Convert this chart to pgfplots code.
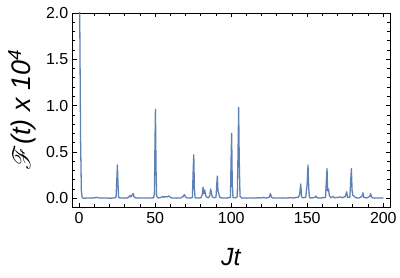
\documentclass[border=0pt]{standalone}
\usepackage{pgfplots}
\pgfplotsset{compat=1.18}
\usepackage{fontspec}
\usepackage{mathrsfs}
\setmainfont{Liberation Sans}
\definecolor{mblue}{RGB}{94,129,181}
\begin{document}
\begin{tikzpicture}
\path[use as bounding box] (-72.7bp,-71bp) rectangle (327.3bp,207bp);
\begin{axis}[
  at={(0,0)}, anchor=south west,
  scale only axis, width=317.3bp, height=194bp,
  xmin=-4.2, xmax=204.4, ymin=-0.094, ymax=2.0,
  xtick={0,50,100,150,200}, minor xtick={10,20,30,40,60,70,80,90,110,120,130,140,160,170,180,190},
  ytick={0,0.5,1,1.5,2}, minor ytick={0.1,0.2,0.3,0.4,0.6,0.7,0.8,0.9,1.1,1.2,1.3,1.4,1.6,1.7,1.8,1.9},
  yticklabel style={xshift=-1bp, /pgf/number format/.cd,fixed,fixed zerofill,precision=1},
  /pgf/number format/assume math mode=true,
  tick label style={font=\fontsize{16}{18}\selectfont, black},
  tick align=inside, major tick length=4.5bp, minor tick length=2.8bp,
  tick style={black, line width=0.8pt},
  axis line style={black, line width=0.9pt},
  xticklabel style={yshift=-2bp},
  xlabel={\textit{Jt}},
  ylabel={$\mathscr{F}$\textit{(t) x 10}\textsuperscript{\textit{4}}},
  xlabel style={at={(axis description cs:0.5,-0.26)}, anchor=center, font=\fontsize{25}{27}\selectfont},
  ylabel style={at={(axis description cs:-0.16,0.5)}, anchor=center, font=\fontsize{27}{30}\selectfont},
  clip=true,
]
\addplot[mblue, line width=1.3pt, line join=round] coordinates {
(0,3.0) (0.5,1.8) (1,0.6) (1.5,0.08) (2,0.01) (3,0.0) (5,0.003) (8,0.002) (10,0.005) (12,0.01) (13,0.004) (15,0.002) (18,0.003) (20,0.001) (23,0.003) (24.3,0.01) (24.8,0.2) (25.2,0.36) (25.6,0.15) (26,0.01) (27,0.003) (30,0.002) (32,0.005) (33,0.02) (33.5,0.03) (34,0.015) (35,0.04) (35.6,0.05) (36,0.02) (37,0.005) (40,0.002) (43,0.003) (46,0.002) (49,0.005) (49.5,0.05) (49.9,0.6) (50.2,0.96) (50.6,0.3) (51,0.02) (52,0.003) (54,0.01) (55,0.02) (56,0.01) (57,0.02) (58,0.015) (59,0.025) (60,0.01) (61,0.003) (64,0.002) (67,0.004) (68.5,0.02) (69.2,0.04) (70,0.015) (71,0.003) (73,0.002) (74.5,0.01) (75,0.3) (75.4,0.47) (75.8,0.1) (76.3,0.005) (78,0.003) (80,0.005) (81,0.04) (81.5,0.12) (82,0.05) (82.6,0.09) (83.2,0.03) (84,0.01) (85,0.005) (86,0.03) (86.5,0.1) (87,0.06) (87.5,0.02) (88.5,0.005) (90,0.01) (90.5,0.15) (90.9,0.24) (91.3,0.08) (91.8,0.05) (92.5,0.01) (94,0.003) (97,0.002) (99.5,0.01) (99.9,0.4) (100.3,0.70) (100.7,0.15) (101.2,0.005) (103,0.005) (104,0.02) (104.5,0.5) (104.9,0.98) (105.3,0.4) (105.8,0.02) (107,0.003) (110,0.002) (113,0.003) (116,0.002) (118,0.006) (119,0.003) (121,0.008) (123,0.003) (125,0.01) (125.8,0.05) (126.5,0.01) (128,0.002) (131,0.003) (134,0.002) (137,0.004) (139,0.006) (141,0.003) (143,0.01) (144,0.008) (145,0.04) (145.7,0.155) (146.3,0.02) (147,0.005) (149,0.01) (149.9,0.15) (150.5,0.36) (151,0.1) (151.5,0.005) (153,0.004) (155,0.01) (155.7,0.025) (156.5,0.005) (158,0.003) (160,0.005) (162,0.01) (162.6,0.2) (163,0.32) (163.4,0.08) (164,0.1) (164.5,0.03) (165.5,0.005) (167,0.02) (168,0.005) (170,0.01) (172,0.015) (173,0.005) (175,0.02) (175.9,0.07) (176.5,0.01) (178,0.01) (178.6,0.2) (179,0.32) (179.5,0.08) (180,0.03) (181,0.02) (182,0.005) (184,0.003) (186,0.02) (186.6,0.06) (187.2,0.01) (189,0.003) (191,0.02) (191.7,0.05) (192.3,0.008) (194,0.002) (197,0.003) (200,0.002)
};
\end{axis}
\end{tikzpicture}
\end{document}
